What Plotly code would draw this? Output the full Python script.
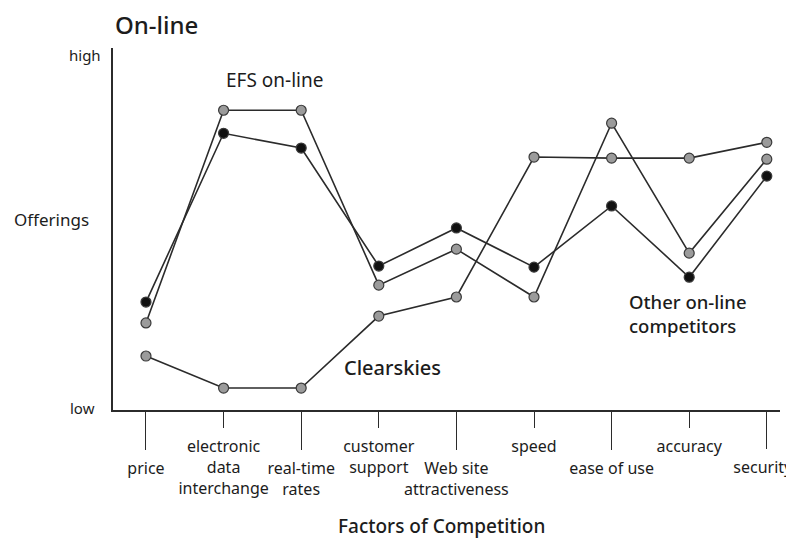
import plotly.graph_objects as go

# ---- data ----
categories = ["price", "electronic data interchange", "real-time rates",
              "customer support", "Web site attractiveness", "speed",
              "ease of use", "accuracy", "security"]
tick_labels = ["price", "electronic<br>data<br>interchange", "real-time<br>rates",
               "customer<br>support", "Web site<br>attractiveness", "speed",
               "ease of use", "accuracy", "security"]
efs_online = [2.42, 8.33, 8.33, 3.47, 4.47, 3.14, 7.97, 4.36, 6.97]
other_online = [3.0, 7.69, 7.28, 4.0, 5.06, 3.97, 5.67, 3.69, 6.5]
clearskies = [1.5, 0.61, 0.61, 2.61, 3.14, 7.03, 7.0, 7.0, 7.44]
level_labels = ["low", "high"]

FONT = "Noto Sans"
INK = "#1c1c1c"
LINE = "#2b2b2b"

# page body has an 8px margin; figure is sized/offset to compensate
W, H = 786, 530

xpos = list(range(len(categories)))
last = xpos[-1]
long_idx = [i for i in xpos if i % 2 == 0 and i != last]
short_idx = [i for i in xpos if i % 2 == 1]
edge_idx = [last]

fig = go.Figure()

def add_series(y, fill, name, axis="x"):
    fig.add_trace(go.Scatter(
        x=xpos, y=y, name=name, xaxis=axis, mode="lines+markers",
        line=dict(color=LINE, width=1.6),
        marker=dict(size=10, color=fill, line=dict(color="#3a3a3a", width=1.2)),
        hovertext=categories, showlegend=False))

add_series(clearskies, "#9b9b9b", "Clearskies", axis="x2")
add_series(efs_online, "#9b9b9b", "EFS on-line", axis="x3")
add_series(other_online, "#111111", "Other on-line competitors")

xrange = [-0.425, 8.17]
tickfont = dict(family=FONT, size=16, color=INK)
common = dict(range=xrange, showgrid=False, zeroline=False, automargin=False,
              tickmode="array", ticks="outside", tickwidth=1.2, tickcolor=LINE,
              ticklabelstandoff=5, ticklabeloverflow="allow", tickfont=tickfont)
fig.update_layout(
    width=W, height=H,
    margin=dict(l=105, r=14, t=40, b=128, autoexpand=False),
    paper_bgcolor="white", plot_bgcolor="white",
    font=dict(family=FONT, color=INK, size=16),
    title=dict(text="On-line", x=107 / W, xanchor="left",
               y=1 - 18 / H, yanchor="middle",
               font=dict(family=FONT, size=24, color=INK, weight=500)),
    xaxis=dict(**common, showline=True, linecolor=LINE, linewidth=1.5,
               tickvals=long_idx, ticktext=[tick_labels[i] for i in long_idx],
               ticklen=38),
    xaxis2=dict(**common, overlaying="x", anchor="y", side="bottom",
                showline=False, tickvals=short_idx,
                ticktext=[tick_labels[i] for i in short_idx], ticklen=17),
    xaxis3=dict(**common, overlaying="x", anchor="y", side="bottom",
                showline=False, tickvals=edge_idx,
                ticktext=[tick_labels[i] for i in edge_idx], ticklen=38,
                ticklabelshift=-4),
    yaxis=dict(range=[0, 10.06], showgrid=False, zeroline=False, automargin=False,
               showline=True, linecolor=LINE, linewidth=1.5,
               showticklabels=False, ticks=""),
)

ann = []
# y-axis level labels and title
ann.append(dict(text=level_labels[1], xref="paper", yref="y", x=0, y=9.86,
                xshift=-10, xanchor="right", yanchor="middle", showarrow=False,
                font=dict(size=15)))
ann.append(dict(text=level_labels[0], xref="paper", yref="y", x=0, y=0.06,
                xshift=-16, xanchor="right", yanchor="middle", showarrow=False,
                font=dict(size=15)))
ann.append(dict(text="Offerings", xref="paper", yref="y", x=0, y=5.3,
                xshift=-22, xanchor="right", yanchor="middle", showarrow=False,
                font=dict(size=17)))
# x-axis title
ann.append(dict(text="Factors of Competition", xref="paper", yref="paper",
                x=(441 - 113) / 667, y=-(526 - 410) / 362, xanchor="center",
                yanchor="middle", showarrow=False, font=dict(size=19, weight=500)))
# series labels
ann.append(dict(text="EFS on-line", x=1.656, y=9.17, xanchor="center",
                yanchor="middle", showarrow=False, font=dict(size=19)))
ann.append(dict(text="Other on-line<br>competitors", x=6.2, y=2.67, xanchor="left",
                yanchor="middle", align="left", showarrow=False,
                font=dict(size=18.5, weight=500)))
ann.append(dict(text="Clearskies", x=3.18, y=1.19, xanchor="center",
                yanchor="middle", showarrow=False, font=dict(size=20, weight=500)))
fig.update_layout(annotations=ann)

fig.write_html("out.html")
